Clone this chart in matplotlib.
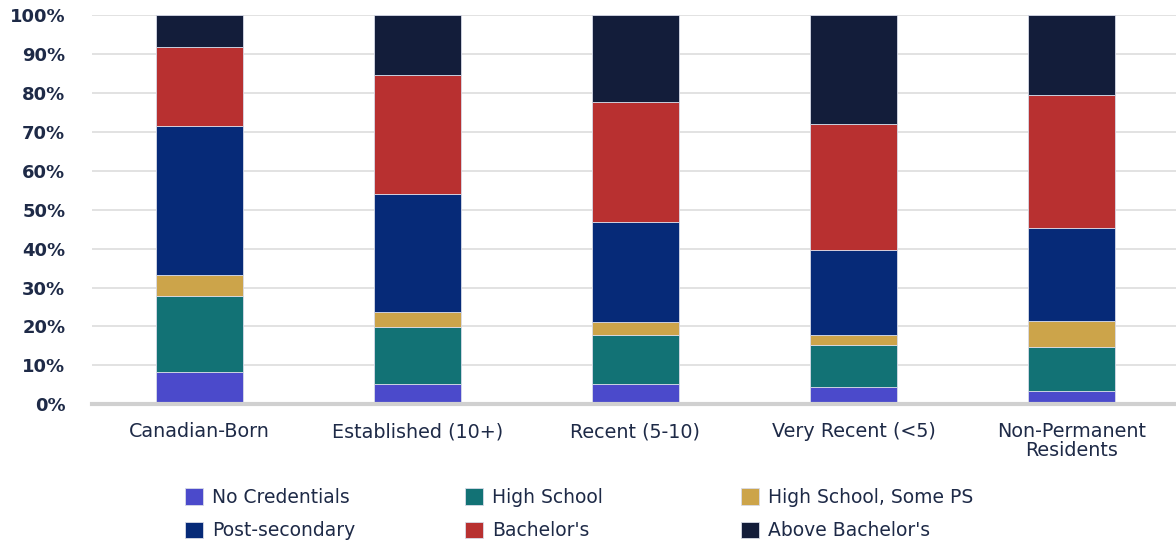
import matplotlib.pyplot as plt
import numpy as np

plt.rcParams['font.family'] = ['DejaVu Sans']

groups = ['Canadian-Born', 'Established (10+)', 'Recent (5-10)', 'Very Recent (<5)', 'Non-Permanent\nResidents']
levels = ['No Credentials', 'High School', 'High School, Some PS',
          'Post-secondary', "Bachelor's", "Above Bachelor's"]

# share of each education level, in percent
no_cred = [8.4, 5.3, 5.3, 4.4, 3.3]
high_school = [19.4, 14.6, 12.4, 10.8, 11.5]
hs_some_ps = [5.4, 3.8, 3.5, 2.5, 6.6]
post_secondary = [38.2, 30.3, 25.6, 22.0, 24.0]
bachelors = [20.5, 30.7, 31.0, 32.4, 34.2]
above_bachelors = [8.1, 15.3, 22.2, 27.9, 20.4]

colors = ['#4b4acb', '#127275', '#cca44a', '#062a78', '#b83030', '#131d3a']
text_color = '#1e2a47'

fig = plt.figure(figsize=(11.76, 5.44), dpi=100)
ax = fig.add_axes([0.078, 0.257, 0.922, 0.715])

x = np.arange(len(groups))
bottom = np.zeros(len(groups))
handles = []
for vals, col, lab in zip([no_cred, high_school, hs_some_ps, post_secondary, bachelors, above_bachelors],
                          colors, levels):
    v = np.array(vals) / 100
    h = ax.bar(x, v, 0.4, bottom=bottom, color=col, edgecolor='#d8dbe8', linewidth=0.6, label=lab, zorder=3)
    handles.append(h)
    bottom += v

ax.set_xlim(-0.495, 4.48)
ax.set_ylim(0, 1.0)
ticks = np.arange(0, 1.01, 0.1)
ax.set_yticks(ticks)
ax.set_yticklabels(['{}%'.format(int(round(t * 100))) for t in ticks],
                   fontsize=13, fontweight='bold', color=text_color)
ax.set_xticks(x)
ax.set_xticklabels(groups, fontsize=13.8, color=text_color, linespacing=1.0)
ax.tick_params(axis='both', length=0)
ax.tick_params(axis='y', pad=19)
ax.tick_params(axis='x', pad=13)
ax.grid(axis='y', color='#dddddd', linewidth=1.2, zorder=0)
for s in ['top', 'right', 'left']:
    ax.spines[s].set_visible(False)
ax.spines['bottom'].set_color('#d0d0d0')
ax.spines['bottom'].set_linewidth(3)
ax.spines['bottom'].set_zorder(4)

# legend: three fixed-width columns, two rows
col_x = [185, 465, 741]
for c in range(3):
    idx = [c, c + 3]
    leg = fig.legend([handles[i] for i in idx], [levels[i] for i in idx],
                     loc='center left', bbox_to_anchor=(col_x[c] / 1176, 1 - 514 / 544),
                     frameon=False, fontsize=13.5, handlelength=0.95, handleheight=0.95,
                     handletextpad=0.5, labelspacing=0.75, borderpad=0, borderaxespad=0)
    for t in leg.get_texts():
        t.set_color(text_color)

fig.savefig('out.png', dpi=100)
